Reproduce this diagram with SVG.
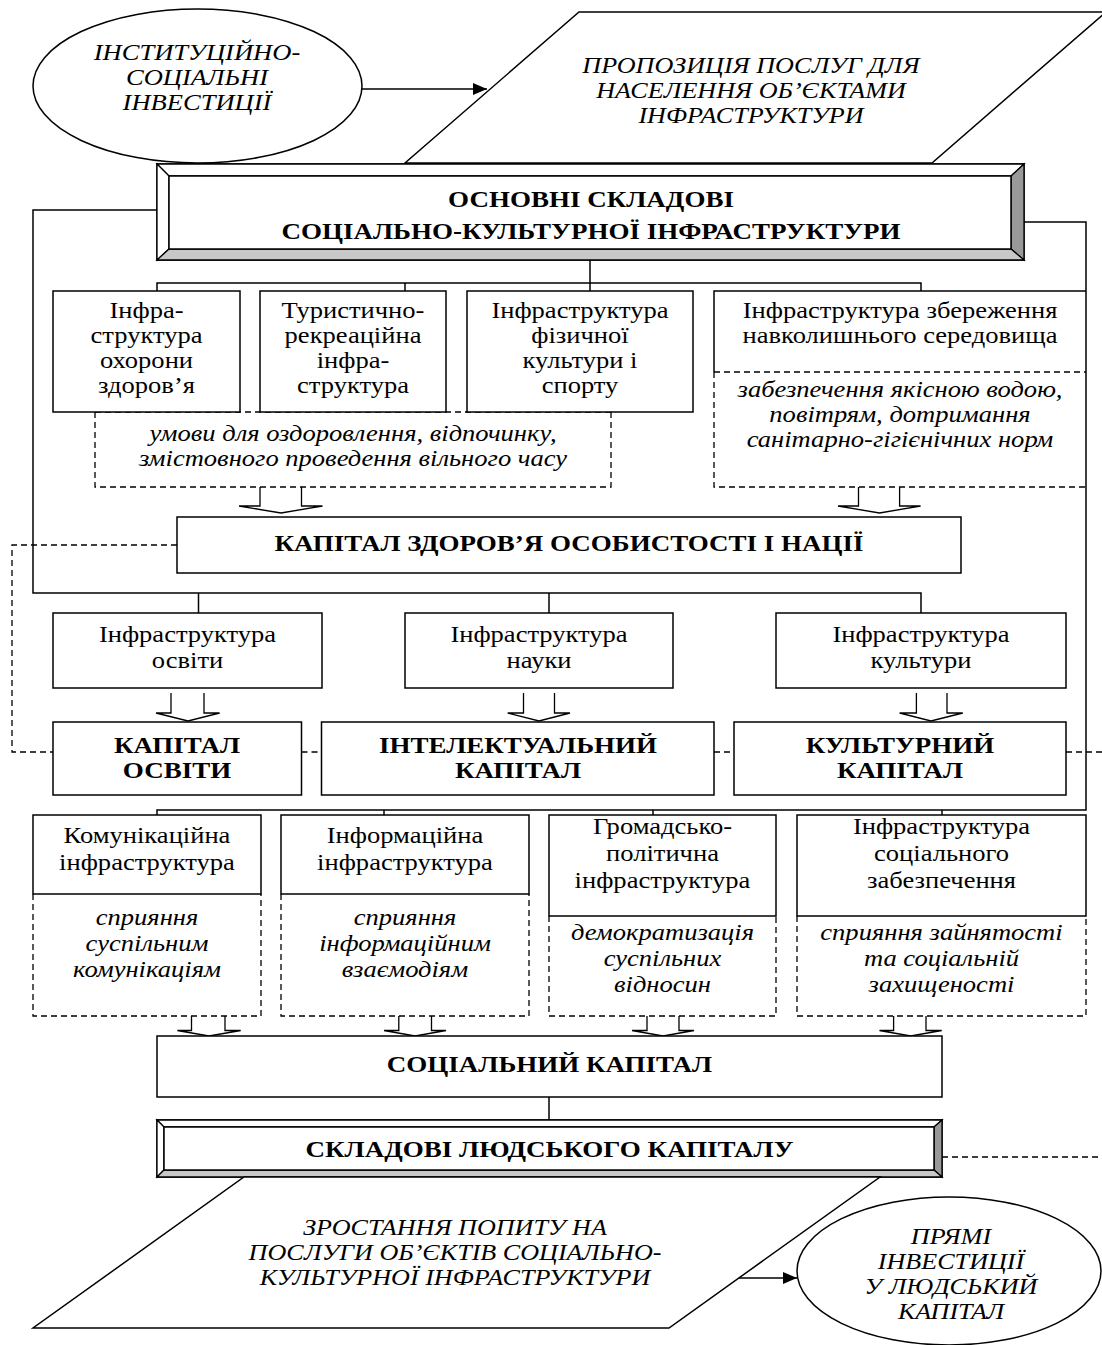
<svg xmlns="http://www.w3.org/2000/svg" width="1102" height="1345" viewBox="0 0 1102 1345">
<defs>
<style>
.box{fill:#fff;stroke:#000;stroke-width:1.5}
.ln{fill:none;stroke:#000;stroke-width:1.5}
.dash{fill:none;stroke:#000;stroke-width:1.3;stroke-dasharray:6 4}
.barr{fill:#fff;stroke:#000;stroke-width:1.3}
.t{font-family:"Liberation Serif","Times New Roman",serif;font-size:22.5px;text-anchor:middle;fill:#000}
.i{font-style:italic}
.b{font-weight:bold}
.lt{fill:#fff;stroke:#000;stroke-width:1.3}
.dk{fill:#999;stroke:#000;stroke-width:1.3}
.md{fill:#c8c8c8;stroke:#000;stroke-width:1.3}
</style>
<marker id="ah" viewBox="0 0 14 12" refX="14" refY="6" markerWidth="14" markerHeight="12" markerUnits="userSpaceOnUse" orient="auto">
<path d="M0,0 L14,6 L0,12 Z" fill="#000"/>
</marker>
</defs>
<rect width="1102" height="1345" fill="#fff"/>

<g id="connectors">
<line class="ln" x1="362" y1="89" x2="487" y2="89" marker-end="url(#ah)"/>
<polyline class="ln" points="157,210 33,210 33,593 921,593 921,613"/>
<line class="ln" x1="198.5" y1="593" x2="198.5" y2="613"/>
<line class="ln" x1="549" y1="593" x2="549" y2="613"/>
<polyline class="ln" points="1024,222 1086,222 1086,810 157,810 157,815"/>
<line class="ln" x1="384" y1="810" x2="384" y2="815"/>
<line class="ln" x1="653" y1="810" x2="653" y2="815"/>
<line class="ln" x1="942" y1="810" x2="942" y2="815"/>
<line class="ln" x1="590" y1="260" x2="590" y2="291"/>
<polyline class="ln" points="157,291 157,283 921,283 921,291"/>
<line class="ln" x1="405" y1="283" x2="405" y2="291"/>
<polyline class="dash" points="177,545 12,545 12,752 53,752"/>
<line class="dash" x1="301.5" y1="752" x2="321.5" y2="752"/>
<line class="dash" x1="714" y1="752" x2="734" y2="752"/>
<line class="dash" x1="1066" y1="752" x2="1102" y2="752"/>
<line class="dash" x1="942" y1="1157" x2="1102" y2="1157"/>
<line class="ln" x1="549" y1="1097" x2="549" y2="1120"/>
<line class="ln" x1="735.5" y1="1278" x2="797" y2="1278" marker-end="url(#ah)"/>
<path class="barr" d="M260,487 L260,506 L239,506 L281,513 L322.5,506 L301.5,506 L301.5,487"/>
<path class="barr" d="M858.5,487 L858.5,506 L838,506 L879.5,513 L920.6,506 L899.6,506 L899.6,487"/>
<path class="barr" d="M171,693 L171,713 L156,713 L188,721 L219.6,713 L204,713 L204,693"/>
<path class="barr" d="M523.5,693 L523.5,713 L507.7,713 L539,721 L570,713 L554.5,713 L554.5,693"/>
<path class="barr" d="M916.4,693 L916.4,713 L899.6,713 L931,721 L962.8,713 L947,713 L947,693"/>
<path class="barr" d="M191.5,1016 L191.5,1030.5 L177.4,1030.5 L209,1036 L240.7,1030.5 L225,1030.5 L225,1016"/>
<path class="barr" d="M398.8,1016 L398.8,1030.5 L384,1030.5 L415,1036 L446,1030.5 L431.5,1030.5 L431.5,1016"/>
<path class="barr" d="M647,1016 L647,1030.5 L632,1030.5 L663,1036 L694,1030.5 L679,1030.5 L679,1016"/>
<path class="barr" d="M893.6,1016 L893.6,1030.5 L879.5,1030.5 L910.7,1036 L941.7,1030.5 L926,1030.5 L926,1016"/>
</g>

<g id="institutional">
<ellipse class="box" cx="197.5" cy="86" rx="164.5" ry="77"/>
<text class="t i" transform="translate(197 60) scale(1.18 1)">ІНСТИТУЦІЙНО-</text>
<text class="t i" transform="translate(197 85) scale(1.18 1)">СОЦІАЛЬНІ</text>
<text class="t i" transform="translate(197 110) scale(1.18 1)">ІНВЕСТИЦІЇ</text>
</g>

<g id="supply">
<polygon class="box" points="579,12 1106,12 932,163 405,163"/>
<text class="t i" transform="translate(751 73) scale(1.16 1)">ПРОПОЗИЦІЯ ПОСЛУГ ДЛЯ</text>
<text class="t i" transform="translate(751 98) scale(1.16 1)">НАСЕЛЕННЯ ОБ’ЄКТАМИ</text>
<text class="t i" transform="translate(751 123) scale(1.16 1)">ІНФРАСТРУКТУРИ</text>
</g>

<g id="main">
<rect class="box" x="157" y="164" width="867" height="96"/>
<polygon class="lt" points="157,164 1024,164 1011,176 169,176"/>
<polygon class="lt" points="157,164 169,176 169,249 157,260"/>
<polygon class="dk" points="1024,164 1024,260 1011,249 1011,176"/>
<polygon class="md" points="157,260 169,249 1011,249 1024,260"/>
<rect class="box" x="169" y="176" width="842" height="73"/>
<text class="t b" transform="translate(591 207) scale(1.2 1)">ОСНОВНІ СКЛАДОВІ</text>
<text class="t b" transform="translate(591 239) scale(1.2 1)">СОЦІАЛЬНО-КУЛЬТУРНОЇ ІНФРАСТРУКТУРИ</text>
</g>

<g id="leisure-note">
<polyline class="dash" points="95,412 95,487 611,487 611,412"/>
<line class="dash" x1="95" y1="412" x2="611" y2="412"/>
<text class="t i" transform="translate(353 441) scale(1.18 1)">умови для оздоровлення, відпочинку,</text>
<text class="t i" transform="translate(353 466) scale(1.18 1)">змістовного проведення вільного часу</text>
</g>

<g id="health-infra">
<rect class="box" x="53" y="291" width="187" height="121"/>
<text class="t" transform="translate(146.5 318) scale(1.18 1)">Інфра-</text>
<text class="t" transform="translate(146.5 343) scale(1.18 1)">структура</text>
<text class="t" transform="translate(146.5 368) scale(1.18 1)">охорони</text>
<text class="t" transform="translate(146.5 393) scale(1.18 1)">здоров’я</text>
</g>

<g id="tourism-infra">
<rect class="box" x="260" y="291" width="186" height="121"/>
<text class="t" transform="translate(353 318) scale(1.18 1)">Туристично-</text>
<text class="t" transform="translate(353 343) scale(1.18 1)">рекреаційна</text>
<text class="t" transform="translate(353 368) scale(1.18 1)">інфра-</text>
<text class="t" transform="translate(353 393) scale(1.18 1)">структура</text>
</g>

<g id="sport-infra">
<rect class="box" x="467" y="291" width="226" height="121"/>
<text class="t" transform="translate(580 318) scale(1.18 1)">Інфраструктура</text>
<text class="t" transform="translate(580 343) scale(1.18 1)">фізичної</text>
<text class="t" transform="translate(580 368) scale(1.18 1)">культури і</text>
<text class="t" transform="translate(580 393) scale(1.18 1)">спорту</text>
</g>

<g id="environment-infra">
<polyline class="ln" points="714,372 714,291 1086,291"/>
<line class="dash" x1="714" y1="372" x2="1086" y2="372"/>
<polyline class="dash" points="714,372 714,487 1086,487"/>
<text class="t" transform="translate(900 318) scale(1.18 1)">Інфраструктура збереження</text>
<text class="t" transform="translate(900 343) scale(1.18 1)">навколишнього середовища</text>
<text class="t i" transform="translate(900 397) scale(1.18 1)">забезпечення якісною водою,</text>
<text class="t i" transform="translate(900 422) scale(1.18 1)">повітрям, дотримання</text>
<text class="t i" transform="translate(900 447) scale(1.18 1)">санітарно-гігієнічних норм</text>
</g>

<g id="health-capital">
<rect class="box" x="177" y="517" width="784" height="56"/>
<text class="t b" transform="translate(569 551) scale(1.2 1)">КАПІТАЛ ЗДОРОВ’Я ОСОБИСТОСТІ І НАЦІЇ</text>
</g>

<g id="education-infra">
<rect class="box" x="53" y="613" width="269" height="75"/>
<text class="t" transform="translate(187.5 642) scale(1.18 1)">Інфраструктура</text>
<text class="t" transform="translate(187.5 668) scale(1.18 1)">освіти</text>
</g>

<g id="science-infra">
<rect class="box" x="405" y="613" width="268" height="75"/>
<text class="t" transform="translate(539 642) scale(1.18 1)">Інфраструктура</text>
<text class="t" transform="translate(539 668) scale(1.18 1)">науки</text>
</g>

<g id="culture-infra">
<rect class="box" x="776" y="613" width="290" height="75"/>
<text class="t" transform="translate(921 642) scale(1.18 1)">Інфраструктура</text>
<text class="t" transform="translate(921 668) scale(1.18 1)">культури</text>
</g>

<g id="education-capital">
<rect class="box" x="53" y="722" width="248.5" height="73"/>
<text class="t b" transform="translate(177 753) scale(1.2 1)">КАПІТАЛ</text>
<text class="t b" transform="translate(177 778) scale(1.2 1)">ОСВІТИ</text>
</g>

<g id="intellectual-capital">
<rect class="box" x="321.5" y="722" width="392.5" height="73"/>
<text class="t b" transform="translate(518 753) scale(1.2 1)">ІНТЕЛЕКТУАЛЬНИЙ</text>
<text class="t b" transform="translate(518 778) scale(1.2 1)">КАПІТАЛ</text>
</g>

<g id="cultural-capital">
<rect class="box" x="734" y="722" width="332" height="73"/>
<text class="t b" transform="translate(900 753) scale(1.2 1)">КУЛЬТУРНИЙ</text>
<text class="t b" transform="translate(900 778) scale(1.2 1)">КАПІТАЛ</text>
</g>

<g id="communication-infra">
<rect class="box" x="33" y="815" width="228" height="79"/>
<polyline class="dash" points="33,894 33,1016 261,1016 261,894"/>
<text class="t" transform="translate(147 843) scale(1.18 1)">Комунікаційна</text>
<text class="t" transform="translate(147 870) scale(1.18 1)">інфраструктура</text>
<text class="t i" transform="translate(147 925) scale(1.18 1)">сприяння</text>
<text class="t i" transform="translate(147 951) scale(1.18 1)">суспільним</text>
<text class="t i" transform="translate(147 977) scale(1.18 1)">комунікаціям</text>
</g>

<g id="information-infra">
<rect class="box" x="281" y="815" width="248" height="79"/>
<polyline class="dash" points="281,894 281,1016 529,1016 529,894"/>
<text class="t" transform="translate(405 843) scale(1.18 1)">Інформаційна</text>
<text class="t" transform="translate(405 870) scale(1.18 1)">інфраструктура</text>
<text class="t i" transform="translate(405 925) scale(1.18 1)">сприяння</text>
<text class="t i" transform="translate(405 951) scale(1.18 1)">інформаційним</text>
<text class="t i" transform="translate(405 977) scale(1.18 1)">взаємодіям</text>
</g>

<g id="civic-infra">
<rect class="box" x="549" y="815" width="227" height="101"/>
<polyline class="dash" points="549,916 549,1016 776,1016 776,916"/>
<text class="t" transform="translate(662.5 834) scale(1.18 1)">Громадсько-</text>
<text class="t" transform="translate(662.5 861) scale(1.18 1)">політична</text>
<text class="t" transform="translate(662.5 888) scale(1.18 1)">інфраструктура</text>
<text class="t i" transform="translate(662.5 940) scale(1.18 1)">демократизація</text>
<text class="t i" transform="translate(662.5 966) scale(1.18 1)">суспільних</text>
<text class="t i" transform="translate(662.5 992) scale(1.18 1)">відносин</text>
</g>

<g id="social-security-infra">
<rect class="box" x="797" y="815" width="289" height="101"/>
<polyline class="dash" points="797,916 797,1016 1086,1016 1086,916"/>
<text class="t" transform="translate(941.5 834) scale(1.18 1)">Інфраструктура</text>
<text class="t" transform="translate(941.5 861) scale(1.18 1)">соціального</text>
<text class="t" transform="translate(941.5 888) scale(1.18 1)">забезпечення</text>
<text class="t i" transform="translate(941.5 940) scale(1.18 1)">сприяння зайнятості</text>
<text class="t i" transform="translate(941.5 966) scale(1.18 1)">та соціальній</text>
<text class="t i" transform="translate(941.5 992) scale(1.18 1)">захищеності</text>
</g>

<g id="social-capital">
<rect class="box" x="157" y="1036" width="785" height="61"/>
<text class="t b" transform="translate(549.5 1072) scale(1.2 1)">СОЦІАЛЬНИЙ КАПІТАЛ</text>
</g>

<g id="human-capital">
<rect class="box" x="157" y="1120" width="785" height="57"/>
<polygon class="lt" points="157,1120 942,1120 934,1127 164,1127"/>
<polygon class="lt" points="157,1120 164,1127 164,1170 157,1177"/>
<polygon class="dk" points="942,1120 942,1177 934,1170 934,1127"/>
<polygon class="md" points="157,1177 164,1170 934,1170 942,1177"/>
<rect class="box" x="164" y="1127" width="770" height="43"/>
<text class="t b" transform="translate(549.5 1157) scale(1.2 1)">СКЛАДОВІ ЛЮДСЬКОГО КАПІТАЛУ</text>
</g>

<g id="demand">
<polygon class="box" points="244,1177 880,1177 669,1328 33,1328"/>
<text class="t i" transform="translate(455 1235) scale(1.16 1)">ЗРОСТАННЯ ПОПИТУ НА</text>
<text class="t i" transform="translate(455 1260) scale(1.16 1)">ПОСЛУГИ ОБ’ЄКТІВ СОЦІАЛЬНО-</text>
<text class="t i" transform="translate(455 1285) scale(1.16 1)">КУЛЬТУРНОЇ ІНФРАСТРУКТУРИ</text>
</g>

<g id="direct-investment">
<ellipse class="box" cx="949" cy="1271" rx="152" ry="74"/>
<text class="t i" transform="translate(951 1244) scale(1.16 1)">ПРЯМІ</text>
<text class="t i" transform="translate(951 1269) scale(1.16 1)">ІНВЕСТИЦІЇ</text>
<text class="t i" transform="translate(951 1294) scale(1.16 1)">У ЛЮДСЬКИЙ</text>
<text class="t i" transform="translate(951 1319) scale(1.16 1)">КАПІТАЛ</text>
</g>
</svg>
